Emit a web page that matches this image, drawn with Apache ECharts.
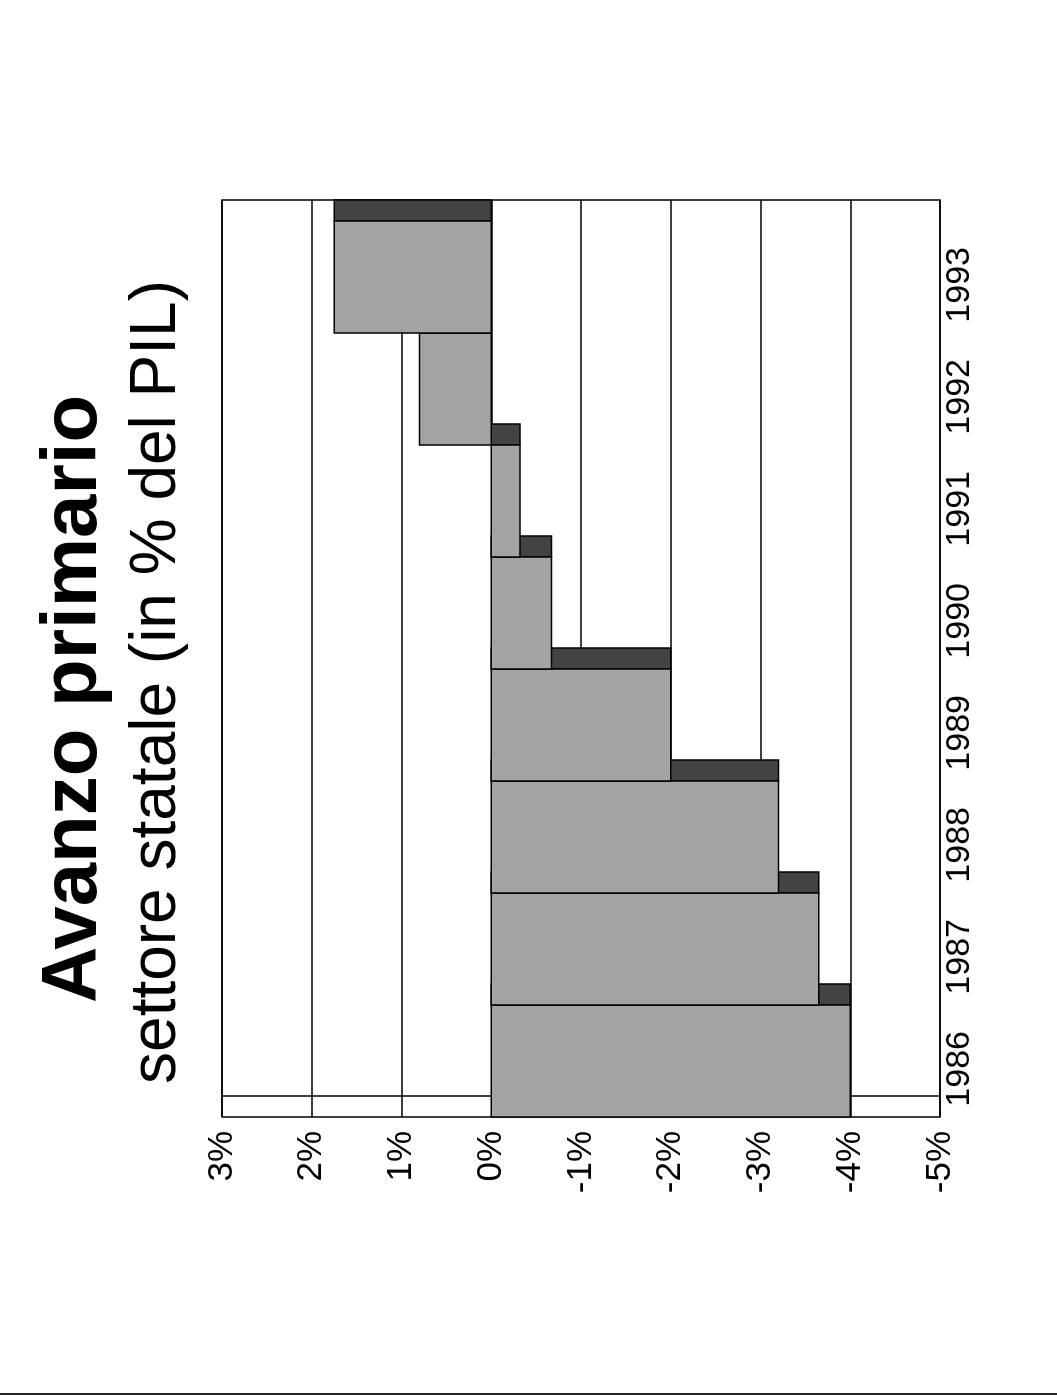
<!DOCTYPE html>
<html>
<head>
<meta charset="utf-8">
<title>Avanzo primario</title>
<script src="https://cdn.jsdelivr.net/npm/echarts@6/dist/echarts.min.js"></script>
<style>
  html, body { margin: 0; padding: 0; background: #fff; overflow: hidden; }
  #page { width: 1057px; height: 1393px; position: relative; overflow: hidden; border-bottom: 2px solid #222; }
  /* chart drawn landscape, then turned a quarter to the left like the original page */
  #avanzo {
    position: absolute; left: 0; top: 0;
    width: 1395px; height: 1057px;
    transform-origin: 0 0;
    transform: translate(0, 1395px) rotate(-90deg);
  }
</style>
</head>
<body>
<div id="page"><div id="avanzo"></div></div>
<script>
  const years = ['1986', '1987', '1988', '1989', '1990', '1991', '1992', '1993'];
  // avanzo primario settore statale, % del PIL
  const avanzo = [-4.0, -3.65, -3.2, -2.0, -0.67, -0.32, 0.8, 1.75];
  const pctTicks = [-5, -4, -3, -2, -1, 0, 1, 2, 3];

  const depth = 0.1875; // profondita' 3D, in quote di una colonna
  const font = '"Liberation Sans", Arial, sans-serif';

  const chart = echarts.init(document.getElementById('avanzo'), null, { renderer: 'canvas' });

  const option = {
    animation: false,
    backgroundColor: '#fff',
    title: [{
      text: 'Avanzo primario',
      left: 691,
      top: 30,
      textAlign: 'center',
      textStyle: { fontFamily: font, fontSize: 78, fontWeight: 'bold', color: '#000' }
    }, {
      text: 'settore statale (in % del PIL)',
      left: 708,
      top: 120,
      textAlign: 'center',
      textStyle: { fontFamily: font, fontSize: 64, fontWeight: 'normal', color: '#000' }
    }],
    grid: {
      left: 278,
      right: 200,
      top: 222,
      bottom: 117,
      show: true,
      borderColor: '#000',
      borderWidth: 1.5,
      backgroundColor: 'transparent'
    },
    xAxis: {
      type: 'value',
      min: 0,
      max: years.length + depth,
      axisLine: { show: false },
      axisTick: { show: false },
      splitLine: { show: false },
      axisLabel: {
        customValues: years.map((y, i) => i + 0.43),
        formatter: v => years[Math.floor(v)],
        fontFamily: font,
        fontSize: 34,
        color: '#000',
        margin: 3
      }
    },
    yAxis: {
      type: 'value',
      min: pctTicks[0],
      max: pctTicks[pctTicks.length - 1],
      interval: 1,
      axisLine: { show: false },
      axisTick: { show: false },
      axisLabel: {
        formatter: '{value}%',
        fontFamily: font,
        fontSize: 35,
        color: '#000',
        margin: 14
      },
      splitLine: { show: true, lineStyle: { color: '#000', width: 1.5 } }
    },
    series: [{
      // spigolo del pavimento 3D, sotto le colonne
      type: 'custom',
      z: 1,
      silent: true,
      data: [[depth]],
      renderItem: function (params, api) {
        const p0 = api.coord([api.value(0), pctTicks[0]]);
        const p1 = api.coord([api.value(0), pctTicks[pctTicks.length - 1]]);
        return {
          type: 'line',
          shape: { x1: p0[0], y1: p0[1], x2: p1[0], y2: p1[1] },
          style: { stroke: '#000', lineWidth: 1.5 }
        };
      }
    }, {
      type: 'custom',
      z: 3,
      data: avanzo.map((v, i) => [i, v]),
      renderItem: function (params, api) {
        const i = api.value(0);
        const v = api.value(1);
        const a = api.coord([i, 0]);
        const b = api.coord([i + 1, v]);
        const c = api.coord([i + 1 + depth, v]);
        const y0 = Math.min(a[1], b[1]);
        const h = Math.abs(b[1] - a[1]);
        return {
          type: 'group',
          children: [{
            type: 'rect',
            shape: { x: b[0], y: y0, width: c[0] - b[0], height: h },
            style: { fill: '#434343', stroke: '#000', lineWidth: 1.5 }
          }, {
            type: 'rect',
            shape: { x: a[0], y: y0, width: b[0] - a[0], height: h },
            style: { fill: '#a4a4a4', stroke: '#000', lineWidth: 1.5 }
          }]
        };
      }
    }]
  };

  chart.setOption(option);
</script>
</body>
</html>
